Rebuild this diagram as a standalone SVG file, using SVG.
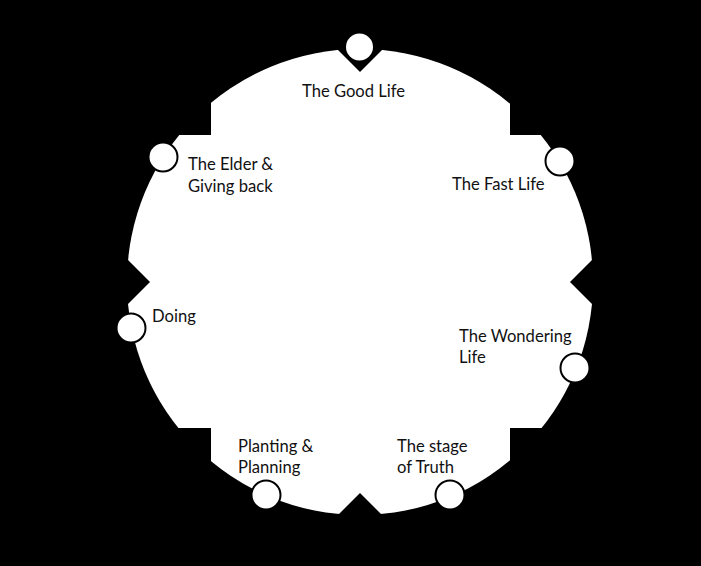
<svg xmlns="http://www.w3.org/2000/svg" width="701" height="566" viewBox="0 0 701 566">
<style>
.bg{fill:#000}
.cut{fill:#000}
.dot{fill:#fff;stroke:#000;stroke-width:2}
.lbl{font-family:Lato,"Open Sans","Liberation Sans",sans-serif;font-size:16.6px;fill:#111}
</style>
<rect class="bg" x="0" y="0" width="701" height="566"/>
<g id="wheel">
<circle cx="360" cy="282" r="233" fill="#fff"/>
<rect class="cut" x="0" y="0" width="211" height="135"/>
<rect class="cut" x="510" y="0" width="191" height="135"/>
<rect class="cut" x="0" y="428" width="211" height="138"/>
<rect class="cut" x="510" y="428" width="191" height="138"/>
<polygon class="cut" points="328,40 360,72 392,40"/>
<polygon class="cut" points="328,525 360,493 392,525"/>
<polygon class="cut" points="118,250 150,282 118,314"/>
<polygon class="cut" points="602,250 570,282 602,314"/>
</g>
<g id="connectors"></g>
<g id="good-life">
<circle class="dot" cx="359.5" cy="47" r="14.5"/>
<text class="lbl" x="302" y="97">The Good Life</text>
</g>
<g id="elder">
<circle class="dot" cx="163" cy="157" r="14.5"/>
<text class="lbl" x="188" y="170">The Elder &amp;</text>
<text class="lbl" x="188" y="192">Giving back</text>
</g>
<g id="fast-life">
<circle class="dot" cx="560" cy="161" r="14.5"/>
<text class="lbl" x="452" y="190">The Fast Life</text>
</g>
<g id="doing">
<circle class="dot" cx="131" cy="328" r="14.5"/>
<text class="lbl" x="152" y="322">Doing</text>
</g>
<g id="wondering">
<circle class="dot" cx="575" cy="368" r="14.5"/>
<text class="lbl" x="459" y="342">The Wondering</text>
<text class="lbl" x="459" y="363">Life</text>
</g>
<g id="truth">
<circle class="dot" cx="450" cy="495" r="14.5"/>
<text class="lbl" x="397" y="452">The stage</text>
<text class="lbl" x="397" y="473">of Truth</text>
</g>
<g id="planting">
<circle class="dot" cx="266" cy="495" r="14.5"/>
<text class="lbl" x="238" y="452">Planting &amp;</text>
<text class="lbl" x="238" y="473">Planning</text>
</g>
</svg>
